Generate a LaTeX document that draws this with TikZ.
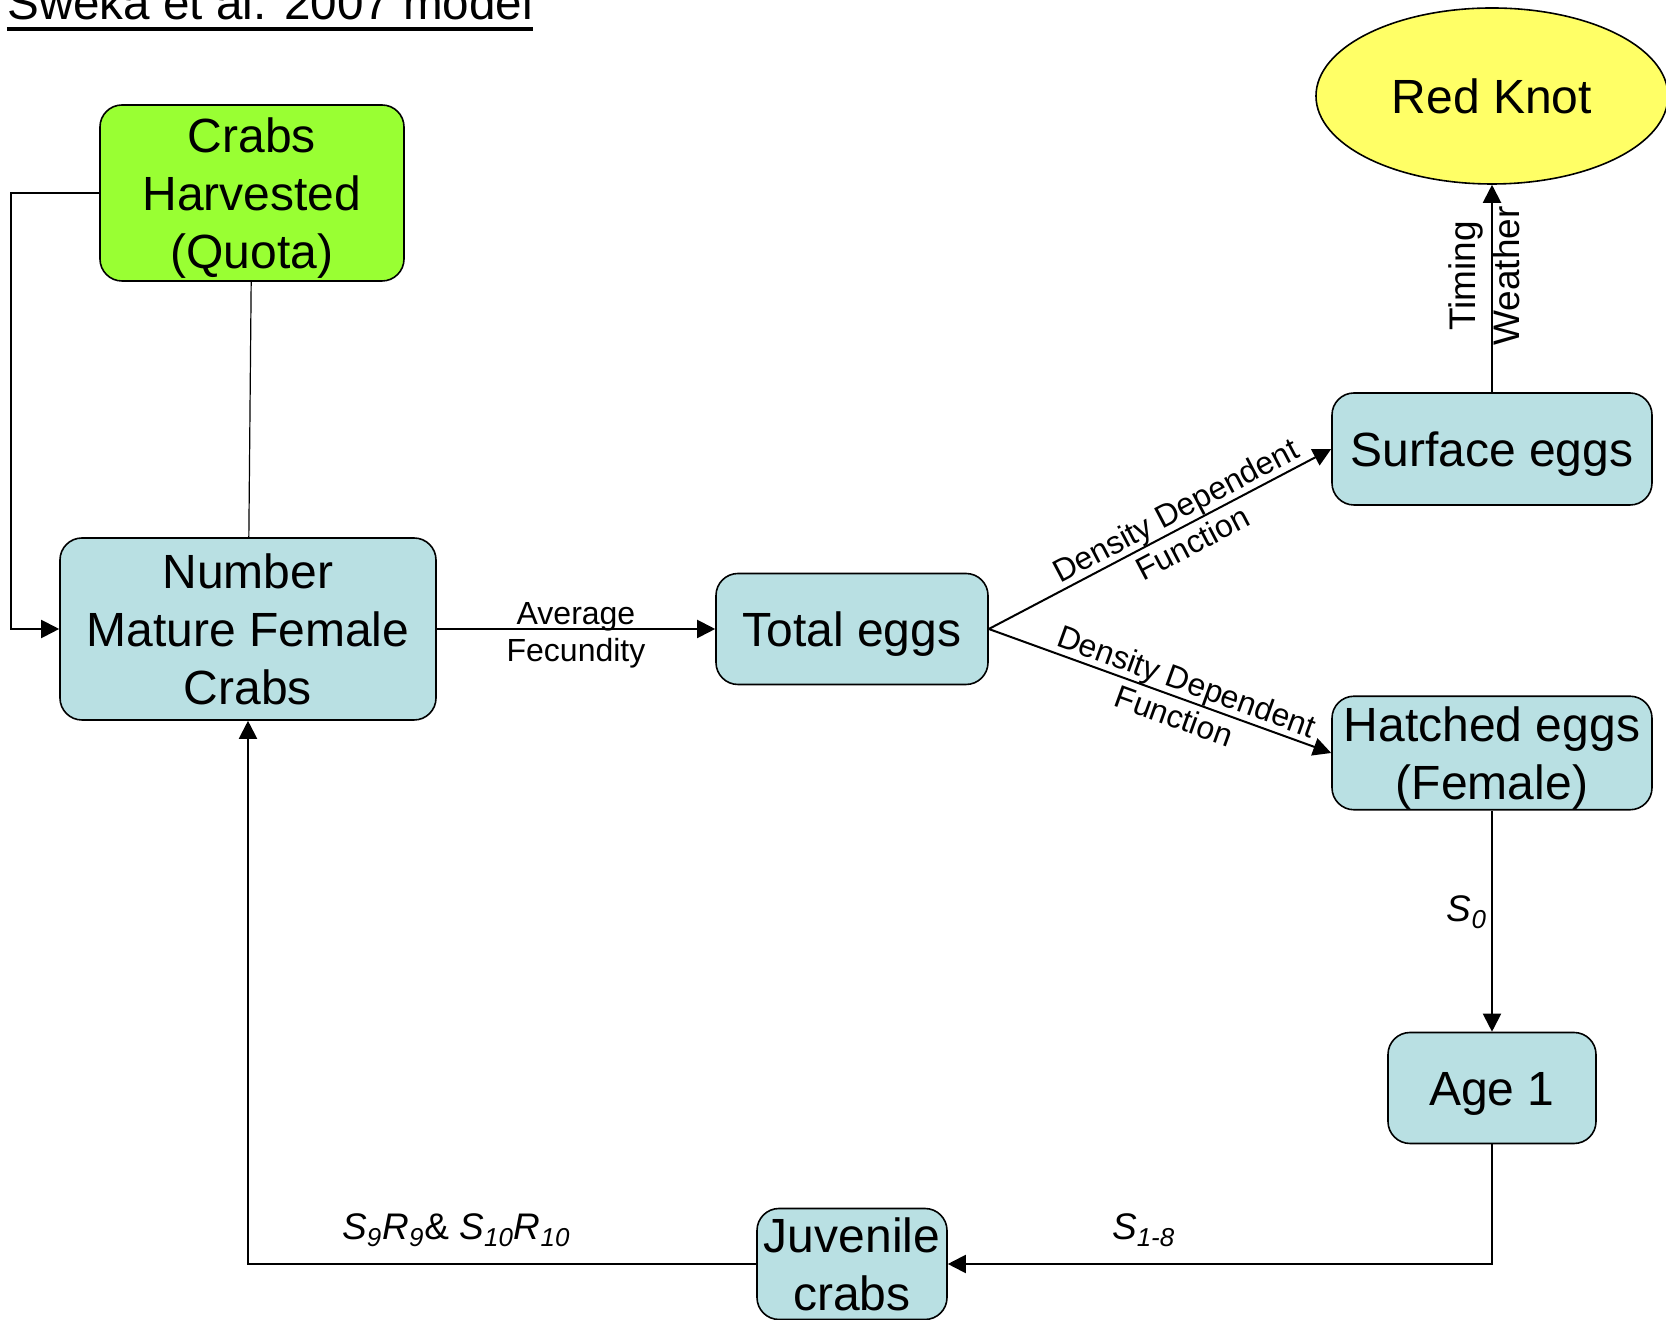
\documentclass[tikz,border=0pt]{standalone}
\usepackage{fontspec}
\setmainfont{Liberation Sans}
\usepackage{tikz}
\usetikzlibrary{shapes,arrows.meta}
\definecolor{eggblue}{HTML}{B9E0E3}
\definecolor{quotagreen}{HTML}{99FF33}
\definecolor{knotyellow}{HTML}{FFFF66}
\newcommand{\boxfont}{\fontsize{24pt}{29pt}\selectfont}
\newcommand{\flowfont}{\fontsize{16pt}{18.5pt}\selectfont}
\newcommand{\ratefont}{\fontsize{18.5pt}{22pt}\selectfont}
\newcommand{\titlefont}{\fontsize{23.8pt}{28pt}\selectfont}
\newcommand{\lift}{\rule{0pt}{22.8pt}}
\tikzstyle{block} = [rectangle, draw, line width=0.8pt, fill=eggblue,
    align=center, rounded corners=11pt, inner xsep=2pt, inner ysep=0pt, font=\boxfont]
\tikzstyle{quota} = [block, fill=quotagreen]
\tikzstyle{bird} = [ellipse, draw, line width=0.8pt, fill=knotyellow,
    inner sep=0pt, minimum width=176pt, minimum height=88pt, font=\boxfont]
\tikzstyle{line} = [draw, line width=1pt, -{Triangle[length=9pt,width=9pt]}]
\tikzstyle{flow} = [font=\flowfont, align=center]
\tikzstyle{rate} = [font=\ratefont, inner sep=2pt]

\begin{document}
\begin{tikzpicture}[node distance = 2cm]
\useasboundingbox (-124pt,-345.5pt) rectangle (709pt,314.5pt);
\node [block, minimum width=188pt, minimum height=91pt] (nmfc) {Number\\Mature Female\\Crabs};
\node [quota, above of=nmfc, node distance=218pt, xshift=2pt, minimum width=152pt, minimum height=88pt] (harvest) {\lift Crabs\\Harvested\\(Quota)};
\node [block, right of=nmfc, node distance=302pt, minimum width=136pt, minimum height=55.5pt] (total) {\lift Total eggs};
\node [block, right of=total, node distance=320pt, yshift=90pt, minimum width=160pt, minimum height=56pt] (surface) {\lift Surface eggs};
\node [block, right of=total, node distance=320pt, yshift=-62pt, minimum width=160pt, minimum height=56pt] (hatched) {\lift Hatched eggs\\(Female)};
\node [bird, above of=surface, node distance=176.5pt] (redknot) {Red Knot};
\node [block, below of=hatched, node distance=167.5pt, minimum width=104pt, minimum height=55.5pt] (age) {\lift Age 1};
\node [block, below of=total, node distance=317.5pt, minimum width=95pt, minimum height=55.5pt] (juvenile) {Juvenile\\crabs};
\node [anchor=base west, inner sep=0pt, font=\titlefont] (title) at (-120.5pt,304.5pt) {Sweka et al. 2007 model};
\draw [line width=2.2pt] ([yshift=-4.5pt]title.base west) -- ([yshift=-4.5pt]title.base east);
% harvest loop
\path [line] (harvest.west) -- ++(-44pt,0) |- (nmfc.west);
\draw [line width=0.6pt] (harvest) -- (nmfc);
% eggs
\path [line] (nmfc) -- node[flow, yshift=-3pt] {Average\\Fecundity} (total);
\path [line] (total.east) -- node[flow, sloped, pos=0.57] {Density Dependent\\Function} (surface.west);
\path [line] (total.east) -- node[flow, sloped, pos=0.56] {Density Dependent\\Function} (hatched.west);
\path [line] (surface) -- node[flow, font=\ratefont, xshift=-4pt, rotate=90, pos=0.56, inner sep=0pt] {Timing\\Weather} (redknot);
% survival
\path [line] (hatched) -- node[rate, left, pos=0.46] {\textit{S\textsubscript{0}}} (age);
\path [line] (age) |- node[rate, anchor=base, pos=0.82, yshift=12pt] {\textit{S\textsubscript{1-8}}} (juvenile);
\path [line] (juvenile) -| node[rate, anchor=base, pos=0.295, yshift=12pt] {\textit{S\textsubscript{9}R\textsubscript{9}}\& \textit{S\textsubscript{10}R\textsubscript{10}}} (nmfc);
\end{tikzpicture}
\end{document}
